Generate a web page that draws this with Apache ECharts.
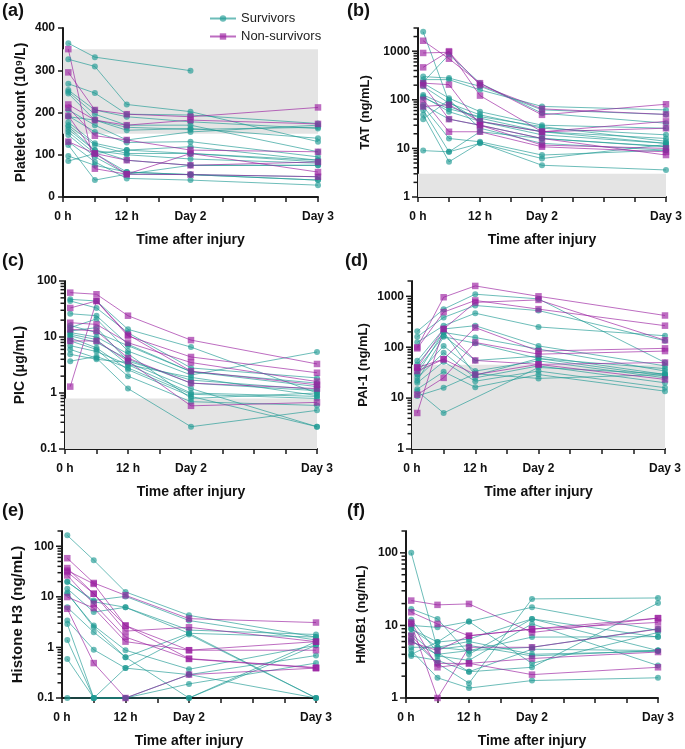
<!DOCTYPE html>
<html><head><meta charset="utf-8">
<script src="https://cdn.jsdelivr.net/npm/echarts@6/dist/echarts.min.js"></script>
<style>html,body{margin:0;padding:0;background:#fff}#c{width:685px;height:749px}</style>
</head><body><div id="c"></div>
<script>
// ---------- data ----------
const timeHours = [1, 6, 12, 24, 48];          // sampling times (h)
const xTickHours = [0, 12, 24, 48];
const xTickText = ['0 h', '12 h', 'Day 2', 'Day 3'];
const legendNames = ['Survivors', 'Non-survivors'];

// (a) Platelet count
const plateletSurv = [
  [364, 331, null, 299, null], [326, 309, 219, 202, 131], [268, 246, 196, 194, 174],
  [253, 206, 190, 178, 162], [249, 196, 170, 170, 107], [245, 182, 158, 162, 139],
  [206, 170, 135, 154, 170], [192, 154, 129, 131, 95], [177, 127, 111, 119, 87],
  [170, 123, 103, 103, 83], [166, 111, 87, 75, 75], [154, 103, 59, 53, 48],
  [147, 95, 54, 53, 40], [131, 83, 44, 40, 28], [123, 40, 54, 75, 75],
  [97, 75, 59, 53, 40], [85, 103, 111, 103, 87], [190, 182, 165, 160, 165],
  [160, 110, 100, 90, 80]
];
const plateletNon = [
  [350, 67, 54, 103, 59], [295, 206, 196, 190, 212], [219, 182, 170, 182, 173],
  [211, 145, 135, 111, 107], [192, 103, 87, 75, 83], [131, 103, 54, 53, 48]
];
// (b) TAT
const tatSurv = [
  [2500, 90, 36, 22, 12.7], [300, 280, 190, 62, 50], [260, 260, 160, 73, 62],
  [230, 850, 220, 53, 33], [220, 108, 57, 30, 26], [190, 85, 49, 26, 19],
  [126, 73, 42, 22, 16], [117, 57, 36, 19, 12.7], [79, 40, 30, 16, 10.8],
  [73, 16, 13.7, 7.3, 9.2], [62, 8.5, 12.7, 6.2, 12], [49, 5.3, 13, 4.5, 3.6],
  [40, 100, 26, 12.7, 9.2], [9, 8.5, 22, 16, 11], [110, 65, 45, 28, 14]
];
const tatNon = [
  [1640, 700, 220, 49, 81], [920, 950, 200, 65, 50], [465, 1000, 122, 22, 26],
  [220, 205, 30, 11.7, 10], [100, 22, 22, 10.8, 8.5], [73, 79, 36, 22, 36],
  [200, 40, 30, 16, 7.3]
];
// (c) PIC
const picSurv = [
  [47, 44, 13.7, 6.6, 1.0], [44, 33, 11.9, 2.8, 1.86], [26, 24, 7.4, 2.4, 1.5],
  [14.7, 21, 5.6, 2.1, 5.4], [12.8, 14.7, 3.7, 1.7, 1.15], [11.2, 9, 3.2, 1.0, 0.87],
  [9.7, 6.4, 2.6, 0.87, 0.25], [8.5, 6, 2.0, 0.7, 0.6], [6, 4.2, 1.2, 0.25, 0.49],
  [4.9, 4.0, 3.5, 1.2, 0.25], [3.7, 4.5, 2.8, 0.95, 0.8], [16, 12, 7, 2.4, 1.3],
  [10.5, 8, 4, 1.5, 1.1], [7, 5.5, 3.2, 1.9, 0.9], [12, 10, 5, 0.8, 1.0]
];
const picNon = [
  [62, 58, 24, 8.8, 3.3], [33, 44, 10.4, 4.4, 2.3], [18, 16.8, 7.9, 3.5, 1.6],
  [13.7, 12.8, 4.2, 1.5, 1.2], [8.5, 8.5, 3.7, 0.59, 0.68], [1.3, 44, 11, 2.45, 1.4]
];
// (d) PAI-1
const paiSurv = [
  [205, 560, 1100, 890, 50], [160, 385, 660, 525, 134], [125, 265, 465, 250, 168],
  [54, 228, 265, 106, 43], [46, 195, 155, 92, 34], [37, 168, 55, 67, 29],
  [29, 106, 34, 54, 25], [25, 78, 25, 43, 20], [20, 52, 21.5, 34, 16],
  [15, 33, 16.4, 29, 13.7], [11, 16, 30, 24.4, 29], [13.7, 5.1, null, 40, 30],
  [22, 160, 120, 60, 38], [30, 200, 28, 60, 27]
];
const paiNon = [
  [100, 960, 1600, 1000, 420], [95, 490, 830, 560, 265], [40, 228, 760, 850, 137],
  [34, 58, 243, 84, 95], [11.7, 25, 124, 73, 84], [5.1, 228, 55, 46, 50],
  [40, 58, 29, 46, 23.3]
];
// (e) Histone H3
const h3Surv = [
  [164, 53, 12.5, 4.3, 1.6], [19.6, 8.5, 10.2, 3.4, 1.4], [14.5, 5, 6.2, 2.2, 1.8],
  [11.5, 2.7, 0.88, 0.37, 1.1], [6.2, 2.0, 0.64, 1.9, 1.6], [3.4, 0.9, 0.39, 0.29, 0.69],
  [2.9, 0.1, 0.1, 0.1, 1.1], [1.4, 0.1, 0.1, 0.19, 0.49], [0.59, 0.1, 0.39, 1.8, 0.1],
  [0.1, 0.1, 0.1, 0.29, 0.1], [20, 8, 6.2, 1.9, 0.1], [12, 2.5, 0.64, 0.1, 1.3]
];
const h3Non = [
  [58, 18.8, 10.7, 3.7, 3.1], [37, 11.5, 2.7, 0.88, 1.3], [31, 11.5, 2.1, 2.5, 1.3],
  [26.5, 7.3, 1.6, 0.59, 0.39], [9.9, 6, 1.3, 0.88, 0.88], [5.8, 0.49, 0.1, 0.29, 0.39],
  [33, 18, 2.7, 0.6, 0.4]
];
// (f) HMGB1
const hmgbSurv = [
  [100, 4.7, 5.3, 3.8, 4.5], [16.9, 12.3, 4.0, 12.3, 4.5], [10, 9.4, 11.3, 17.8, 8.5],
  [8.9, 5.9, 6.5, 12.3, 6.9], [7.6, 3.8, 3.3, 10.5, 2.8], [6.5, 3.0, 1.6, 23.2, 23.9],
  [4.5, 1.9, 1.37, 1.74, 1.9], [3.8, 3.3, 2.3, 4.7, 4.5], [4.0, 5.9, 11.3, 3.0, 8.0],
  [12, 4.2, 2.3, 2.65, 20.3], [5, 5, 4.5, 6.9, 7], [6, 4, 4.5, 5, 9], [9, 5, 6, 4, 4.4]
];
const hmgbNon = [
  [22, 19.2, 19.8, 8.0, 12.6], [15.2, 10.5, 7.2, 8.9, 11], [11, 2.65, 3.0, 2.1, 2.65],
  [10.5, 1, 5.0, 5.0, 8.9], [7.2, 3.0, 3.0, 3.5, 4.3], [5.9, 4.5, 7.2, 8.9, 12.6]
];

// reference (grey) ranges
const bandPlatelet = [150, 350];
const bandTat = [1, 3];
const bandPic = [0.1, 0.8];
const bandPai = [1, 45];

// ---------- layout / styling ----------
const FONT = '"Liberation Sans", Arial, Helvetica, sans-serif';
const TEAL = '#1f9994';
const PURPLE = '#9a1f9f';

const panels = [
  {letter: '(a)', surv: plateletSurv, non: plateletNon, yName: 'Platelet count (10\u2079/L)', log: false, min: 0, max: 400, interval: 100, band: bandPlatelet,
   grid: {left: 63, top: 28, width: 255, height: 169}, nameGap: 35, nameSize: 14, lx: 2, ly: 2},
  {letter: '(b)', surv: tatSurv, non: tatNon, yName: 'TAT (ng/mL)', log: true, min: 1, max: 3000, band: bandTat,
   grid: {left: 418, top: 28, width: 252, height: 169}, nameGap: 46, nameSize: 13, lx: 347, ly: 2},
  {letter: '(c)', surv: picSurv, non: picNon, yName: 'PIC (\u03bcg/mL)', log: true, min: 0.1, max: 100, band: bandPic,
   grid: {left: 65, top: 281, width: 252, height: 168}, nameGap: 38, nameSize: 14, lx: 2, ly: 252},
  {letter: '(d)', surv: paiSurv, non: paiNon, yName: 'PAI-1 (ng/mL)', log: true, min: 1, max: 2000, band: bandPai,
   grid: {left: 412, top: 281, width: 253, height: 168}, nameGap: 42, nameSize: 13, lx: 345, ly: 252},
  {letter: '(e)', surv: h3Surv, non: h3Non, yName: 'Histone H3 (ng/mL)', log: true, min: 0.1, max: 200, band: null,
   grid: {left: 62, top: 531, width: 254, height: 168}, nameGap: 37, nameSize: 15, lx: 2, ly: 502},
  {letter: '(f)', surv: hmgbSurv, non: hmgbNon, yName: 'HMGB1 (ng/mL)', log: true, min: 1, max: 200, band: null,
   grid: {left: 406, top: 531, width: 252, height: 168}, nameGap: 38, nameSize: 13, lx: 347, ly: 502}
];

const axisLineStyle = {color: '#1a1a1a', width: 2};
const grids = [], xAxes = [], yAxes = [], series = [], titles = [];

function rowToData(row) {
  const out = [];
  row.forEach((v, j) => { if (v != null) out.push([timeHours[j], v]); });
  return out;
}
function isPow10(v) { const l = Math.log10(v); return Math.abs(l - Math.round(l)) < 1e-6; }

panels.forEach((p, i) => {
  grids.push(Object.assign({containLabel: false}, p.grid));
  titles.push({text: p.letter, left: p.lx, top: p.ly, padding: 0,
    textStyle: {fontFamily: FONT, fontSize: 18, fontWeight: 'bold', color: '#111'}});
  xAxes.push({
    type: 'value', gridIndex: i, min: 0, max: 48, interval: 6,
    name: 'Time after injury', nameLocation: 'middle', nameGap: 36,
    nameTextStyle: {fontFamily: FONT, fontSize: 14, fontWeight: 'bold', color: '#111'},
    axisLine: {show: true, onZero: false, lineStyle: axisLineStyle},
    axisTick: {show: true, length: 5, lineStyle: {color: '#1a1a1a', width: 1.5}},
    axisLabel: {margin: 14, fontFamily: FONT, fontSize: 12, fontWeight: 'bold', color: '#111',
      formatter: v => { const k = xTickHours.indexOf(v); return k >= 0 ? xTickText[k] : ''; }},
    splitLine: {show: false}
  });
  const y = {
    gridIndex: i, min: p.min, max: p.max,
    name: p.yName, nameLocation: 'middle', nameGap: p.nameGap, nameRotate: 90,
    nameTextStyle: {fontFamily: FONT, fontSize: p.nameSize, fontWeight: 'bold', color: '#111'},
    axisLine: {show: true, onZero: false, lineStyle: axisLineStyle},
    axisLabel: {margin: 8, fontFamily: FONT, fontSize: 12, fontWeight: 'bold', color: '#111'},
    splitLine: {show: false}
  };
  if (p.log) {
    y.type = 'log'; y.logBase = 10;
    y.axisTick = {show: false};
    y.axisLabel.formatter = v => isPow10(v) ? String(+v.toPrecision(6)) : '';
  } else {
    y.type = 'value'; y.interval = p.interval;
    y.axisTick = {show: true, length: 5, lineStyle: {color: '#1a1a1a', width: 1.5}};
  }
  yAxes.push(y);

  if (p.band) {
    series.push({type: 'line', xAxisIndex: i, yAxisIndex: i, data: [], z: 1, silent: true,
      markArea: {silent: true, itemStyle: {color: '#e4e4e4'}, data: [[{yAxis: p.band[0]}, {yAxis: p.band[1]}]]}});
  }
  if (p.log) {
    const ticks = [];
    const k0 = Math.floor(Math.log10(p.min)), k1 = Math.ceil(Math.log10(p.max));
    for (let k = k0; k <= k1; k++) {
      for (let m = 1; m <= 9; m++) {
        const v = +(m * Math.pow(10, k)).toPrecision(6);
        if (v >= p.min - 1e-9 && v <= p.max + 1e-9) ticks.push([0, v, m === 1 ? 1 : 0]);
      }
    }
    series.push({type: 'custom', xAxisIndex: i, yAxisIndex: i, data: ticks, silent: true, clip: false, z: 6,
      renderItem: (params, api) => {
        const pt = api.coord([api.value(0), api.value(1)]);
        const len = api.value(2) ? 5 : 3.5;
        return {type: 'line', shape: {x1: pt[0] - len - 1, y1: pt[1], x2: pt[0] - 1, y2: pt[1]},
          style: {stroke: '#1a1a1a', lineWidth: 1.5}};
      }});
  }
  const mk = (row, name, color, sym, size) => ({
    type: 'line', name: name, xAxisIndex: i, yAxisIndex: i, data: rowToData(row),
    symbol: sym, symbolSize: size, showSymbol: true, clip: false, z: 3,
    lineStyle: {width: 1, color: color, opacity: 0.65},
    itemStyle: {color: color, opacity: 0.65},
    emphasis: {disabled: true}, animation: false
  });
  p.surv.forEach(r => series.push(mk(r, legendNames[0], TEAL, 'circle', 6)));
  p.non.forEach(r => series.push(mk(r, legendNames[1], PURPLE, 'rect', 6.5)));
});

const chart = echarts.init(document.getElementById('c'), null, {renderer: 'canvas'});
chart.setOption({
  backgroundColor: '#fff',
  animation: false,
  title: titles,
  legend: {data: legendNames, orient: 'vertical', left: 204, top: 7, itemWidth: 26, itemHeight: 8, itemGap: 5,
    textStyle: {fontFamily: FONT, fontSize: 13, color: '#222'}},
  grid: grids, xAxis: xAxes, yAxis: yAxes, series: series
});
</script></body></html>
